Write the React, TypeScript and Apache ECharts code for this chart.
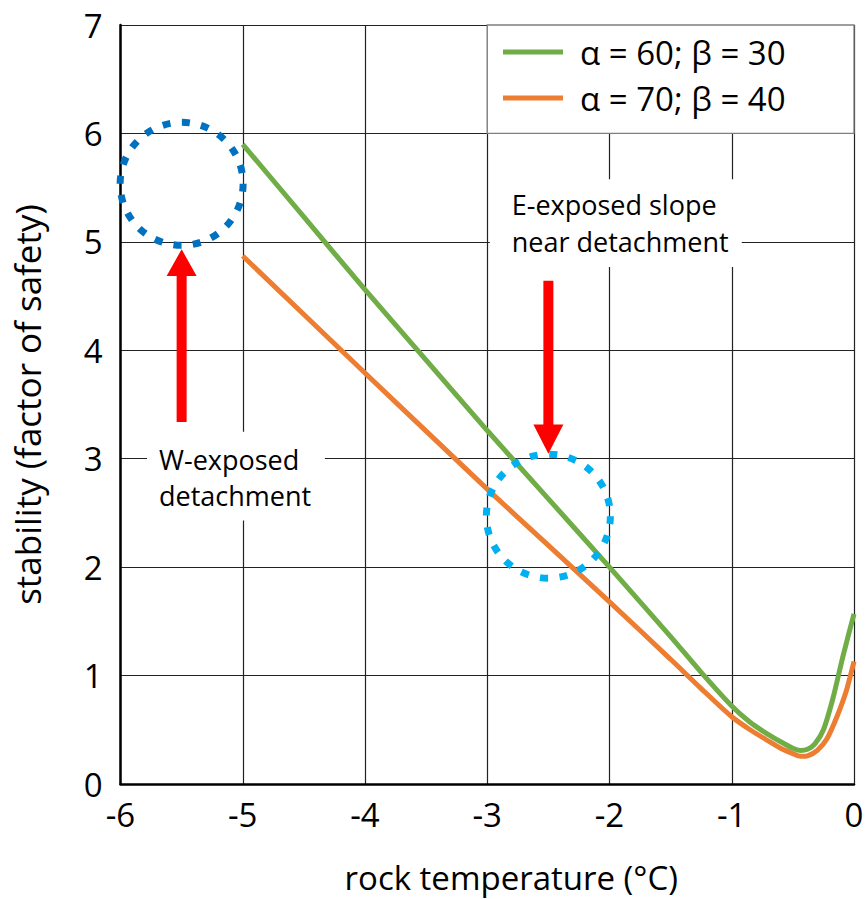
import React, { useEffect, useRef } from "react";
import * as echarts from "echarts";

// rock temperature (°C) sample positions and stability values
const greenX = [-5, -4.5, -4, -3.5, -3, -2.5, -2, -1.5, -1.25, -1, -0.85, -0.72, -0.6, -0.5, -0.44, -0.38, -0.32, -0.25, -0.17, -0.09, 0];
const greenY = [5.9, 5.23, 4.56, 3.91, 3.26, 2.63, 2.0, 1.36, 1.03, 0.72, 0.57, 0.47, 0.39, 0.33, 0.31, 0.32, 0.37, 0.5, 0.8, 1.18, 1.57];
const orangeX = [-5, -4.5, -4, -3.5, -3, -2.5, -2, -1.5, -1.25, -1, -0.85, -0.72, -0.6, -0.5, -0.44, -0.38, -0.3, -0.22, -0.14, -0.06, 0];
const orangeY = [4.87, 4.33, 3.79, 3.255, 2.72, 2.2, 1.68, 1.15, 0.88, 0.62, 0.5, 0.41, 0.33, 0.28, 0.255, 0.26, 0.31, 0.42, 0.62, 0.87, 1.13];

const seriesNames = ["α = 60; β = 30", "α = 70; β = 40"];
const seriesColors = ["#70AD47", "#ED7D31"];

const xTicks = [-6, -5, -4, -3, -2, -1, 0];
const yTicks = [0, 1, 2, 3, 4, 5, 6, 7];

const xTitle = "rock temperature (°C)";
const yTitle = "stability (factor of safety)";
const wNote = ["W-exposed", "detachment"];
const eNote = ["E-exposed slope", "near detachment"];

const FONT = "'Open Sans', 'Noto Sans', sans-serif";

export default function App() {
  const ref = useRef<HTMLDivElement>(null);
  useEffect(() => {
    if (!ref.current) return;
    const chart = echarts.init(ref.current, null, { renderer: "svg" });
    const pairs = (xs: number[], ys: number[]) => xs.map((x, i) => [x, ys[i]]);
    chart.setOption({
      animation: false,
      backgroundColor: "#ffffff",
      grid: { left: 120.5, top: 25, width: 733.5, height: 761, containLabel: false },
      xAxis: {
        type: "value",
        min: xTicks[0],
        max: xTicks[xTicks.length - 1],
        interval: 1,
        name: xTitle,
        nameLocation: "middle",
        nameGap: 77,
        nameTextStyle: { fontFamily: FONT, fontSize: 33, color: "#000", padding: [0, 0, 0, 48] },
        axisLine: { show: true, onZero: false, lineStyle: { color: "#000", width: 2.5 } },
        axisTick: { show: false },
        axisLabel: { fontFamily: FONT, fontSize: 33, color: "#000", margin: 14 },
        splitLine: { show: true, lineStyle: { color: "#222", width: 1.2 } },
      },
      yAxis: {
        type: "value",
        min: yTicks[0],
        max: yTicks[yTicks.length - 1],
        interval: 1,
        name: yTitle,
        nameLocation: "middle",
        nameGap: 76,
        nameTextStyle: { fontFamily: FONT, fontSize: 35, color: "#000" },
        axisLine: { show: true, onZero: false, lineStyle: { color: "#000", width: 2.5 } },
        axisTick: { show: false },
        axisLabel: { fontFamily: FONT, fontSize: 33, color: "#000", margin: 18 },
        splitLine: { show: true, lineStyle: { color: "#222", width: 1.2 } },
      },
      legend: {
        orient: "vertical",
        left: 487,
        top: 25,
        padding: [9, 10, 10, 16],
        itemGap: 10,
        itemWidth: 60,
        itemHeight: 5,
        icon: "rect",
        z: 6,
        textStyle: { fontFamily: FONT, fontSize: 33, color: "#000", lineHeight: 36, padding: [0, 0, 0, 12] },
        data: seriesNames,
      },
      series: [
        {
          name: seriesNames[0],
          type: "line",
          data: pairs(greenX, greenY),
          smooth: 0.25,
          showSymbol: false,
          lineStyle: { color: seriesColors[0], width: 5 },
          itemStyle: { color: seriesColors[0] },
          z: 4,
        },
        {
          name: seriesNames[1],
          type: "line",
          data: pairs(orangeX, orangeY),
          smooth: 0.25,
          showSymbol: false,
          lineStyle: { color: seriesColors[1], width: 5 },
          itemStyle: { color: seriesColors[1] },
          z: 3,
        },
      ],
    });

    const p = (x: number, y: number) => chart.convertToPixel({ gridIndex: 0 }, [x, y]) as number[];
    const rectFrom = (x0: number, y0: number, x1: number, y1: number) => {
      const a = p(x0, y0);
      const b = p(x1, y1);
      return { x: a[0], y: a[1], width: b[0] - a[0], height: b[1] - a[1] };
    };

    const legA = p(-3, 7);
    const legB = p(0, 6);

    const wL1 = p(-5.685, 2.99);
    const wL2 = p(-5.685, 2.66);
    const eL1 = p(-2.8, 5.34);
    const eL2 = p(-2.8, 5.0);

    const c1 = p(-5.5, 5.535);
    const c2 = p(-2.5, 2.47);

    // left arrow (up)
    const la = p(-5.5, 4.932);
    const laBase = p(-5.5, 4.684)[1];
    const laBottom = p(-5.5, 3.338)[1];
    const lx = la[0];
    const leftArrow = [
      [lx, la[1]],
      [lx + 15, laBase],
      [lx + 5, laBase],
      [lx + 5, laBottom],
      [lx - 5, laBottom],
      [lx - 5, laBase],
      [lx - 15, laBase],
    ];
    // right arrow (down)
    const ra = p(-2.5, 3.046);
    const raBase = p(-2.5, 3.316)[1];
    const raTop = p(-2.5, 4.641)[1];
    const rx = ra[0];
    const rightArrow = [
      [rx, ra[1]],
      [rx + 15, raBase],
      [rx + 5, raBase],
      [rx + 5, raTop],
      [rx - 5, raTop],
      [rx - 5, raBase],
      [rx - 15, raBase],
    ];

    const txt = (pt: number[], s: string) => ({
      type: "text",
      x: pt[0],
      y: pt[1],
      z: 6,
      style: { text: s, fontFamily: FONT, fontSize: 27, fill: "#000", align: "left", verticalAlign: "middle" },
    });

    chart.setOption({
      graphic: [
        {
          type: "rect",
          z: 5,
          shape: { x: legA[0], y: legA[1], width: legB[0] - legA[0], height: legB[1] - legA[1] },
          style: { fill: "#fff", stroke: "#7f7f7f", lineWidth: 1.3 },
        },
        { type: "rect", z: 5, shape: rectFrom(-5.783, 3.248, -4.328, 2.43), style: { fill: "#fff" } },
        { type: "rect", z: 5, shape: rectFrom(-2.979, 5.577, -0.918, 4.767), style: { fill: "#fff" } },
        txt(wL1, wNote[0]),
        txt(wL2, wNote[1]),
        txt(eL1, eNote[0]),
        txt(eL2, eNote[1]),
        {
          type: "circle",
          z: 7,
          shape: { cx: c1[0], cy: c1[1], r: 61.5 },
          style: { fill: "none", stroke: "#0070C0", lineWidth: 7, lineDash: [8, 11.3] },
        },
        {
          type: "circle",
          z: 7,
          shape: { cx: c2[0], cy: c2[1], r: 62 },
          style: { fill: "none", stroke: "#00B0F0", lineWidth: 7, lineDash: [8, 11.5] },
        },
        { type: "polygon", z: 7, shape: { points: leftArrow }, style: { fill: "#FF0000" } },
        { type: "polygon", z: 7, shape: { points: rightArrow }, style: { fill: "#FF0000" } },
      ],
    });

    return () => chart.dispose();
  }, []);
  return <div ref={ref} style={{ position: "absolute", left: 0, top: 0, width: 867, height: 899 }} />;
}
